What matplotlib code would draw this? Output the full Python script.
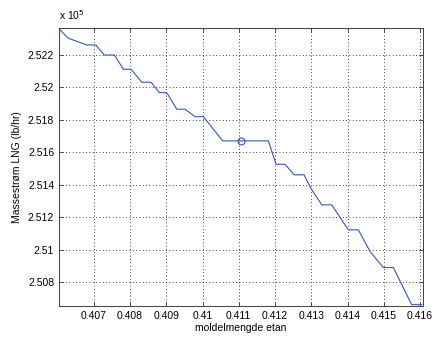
import matplotlib
matplotlib.use("Agg")
from matplotlib import pyplot as plt
from matplotlib.ticker import FormatStrFormatter

# moldelmengde etan vs massestrom LNG (units of 1e5 lb/hr)
x_etan = [0.406043, 0.406300, 0.406807, 0.407055, 0.407292, 0.407568, 0.407816,
          0.408029, 0.408324, 0.408580, 0.408809, 0.409013, 0.409289, 0.409518,
          0.409794, 0.410023, 0.410558, 0.411815, 0.412028, 0.412276, 0.412524,
          0.412800, 0.412985, 0.413288, 0.413564, 0.414021, 0.414297, 0.414620,
          0.414987, 0.415262, 0.415770, 0.416046]
y_lng = [2.52360, 2.52303, 2.52262, 2.52262, 2.52200, 2.52200, 2.52112,
         2.52112, 2.52032, 2.52032, 2.51968, 2.51968, 2.51866, 2.51866,
         2.51820, 2.51820, 2.51671, 2.51671, 2.51527, 2.51527, 2.51462,
         2.51462, 2.51380, 2.51277, 2.51277, 2.51123, 2.51123, 2.50990,
         2.50891, 2.50891, 2.50662, 2.50662]
marker_x = [0.41105]
marker_y = [2.51671]

x_ticks = [0.407, 0.408, 0.409, 0.410, 0.411, 0.412, 0.413, 0.414, 0.415, 0.416]
y_ticks = [2.508, 2.510, 2.512, 2.514, 2.516, 2.518, 2.520, 2.522]

plt.rcParams['font.family'] = ['Liberation Sans', 'DejaVu Sans']
plt.rcParams['font.size'] = 7.5

fig = plt.figure(figsize=(4.37, 3.40), dpi=100)
ax = fig.add_axes([0.135, 0.101, 0.832, 0.8165])

ax.plot(x_etan, y_lng, color="#3556c2", linewidth=0.8)
ax.plot(marker_x, marker_y, marker="o", markersize=5, markerfacecolor="none",
        markeredgecolor="#3556c2", markeredgewidth=0.8, linestyle="")

ax.set_xlim(0.40604, 0.41607)
ax.set_ylim(2.50656, 2.52366)
ax.set_xticks(x_ticks)
ax.set_yticks(y_ticks)
ax.xaxis.set_major_formatter(FormatStrFormatter("%g"))
ax.yaxis.set_major_formatter(FormatStrFormatter("%g"))

ax.grid(True, color="black", linestyle=(0, (1, 3)), linewidth=0.6)
ax.tick_params(direction="in", length=3, top=True, right=True, colors="#303030",
               labelcolor="black", width=0.6)
for s in ax.spines.values():
    s.set_color("#404040")
    s.set_linewidth(0.7)

ax.set_xlabel("moldelmengde etan", labelpad=2)
ax.set_ylabel("Massestrøm LNG (lb/hr)", labelpad=4)
fig.text(0.135, 0.935, "x 10$^5$", ha="left", va="bottom", fontsize=7.5)

fig.savefig("out.png", dpi=100)
